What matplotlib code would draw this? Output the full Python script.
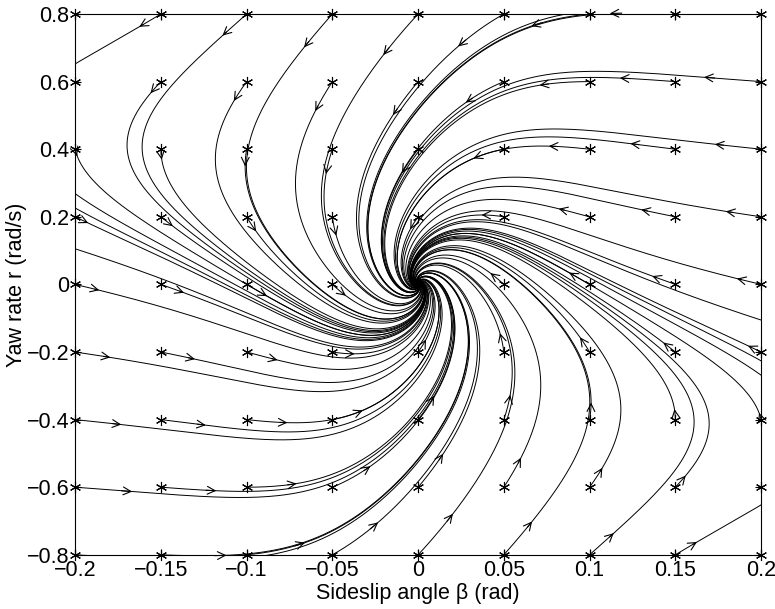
import numpy as np
import matplotlib.pyplot as plt

plt.rcParams['font.family'] = ['Liberation Sans', 'DejaVu Sans']

# grid of initial states (stars)
beta_start = [-0.2, -0.15, -0.1, -0.05, 0.0, 0.05, 0.1, 0.15, 0.2]
r_start = [-0.8, -0.6, -0.4, -0.2, 0.0, 0.2, 0.4, 0.6, 0.8]

x_ticks = [-0.2, -0.15, -0.1, -0.05, 0, 0.05, 0.1, 0.15, 0.2]
x_ticklabels = ['\u22120.2', '\u22120.15', '\u22120.1', '\u22120.05', '0',
                '0.05', '0.1', '0.15', '0.2']
y_ticks = [-0.8, -0.6, -0.4, -0.2, 0, 0.2, 0.4, 0.6, 0.8]
y_ticklabels = ['\u22120.8', '\u22120.6', '\u22120.4', '\u22120.2', '0',
                '0.2', '0.4', '0.6', '0.8']

# bicycle model with saturating tyres
mass = 1500.0
inertia = 2500.0
lf = 1.2
lr = 1.4
speed = 20.0
Cf = 60000.0
Cr = 110000.0
Df = 6900.0
Dr = 6500.0


def field(b, r):
    af = b + lf * r / speed
    ar = b - lr * r / speed
    Ff = -Df * np.tanh(Cf * af / Df)
    Fr = -Dr * np.tanh(Cr * ar / Dr)
    db = (Ff + Fr) / (mass * speed) - r
    dr = (lf * Ff - lr * Fr) / inertia
    return db, dr


B0, R0 = np.meshgrid(beta_start, r_start)
b = B0.ravel().astype(float)
r = R0.ravel().astype(float)

# RK4 integration of all starting points at once
dt = 0.002
n_steps = 2500
traj_b = [b.copy()]
traj_r = [r.copy()]
for _ in range(n_steps):
    k1b, k1r = field(b, r)
    k2b, k2r = field(b + 0.5 * dt * k1b, r + 0.5 * dt * k1r)
    k3b, k3r = field(b + 0.5 * dt * k2b, r + 0.5 * dt * k2r)
    k4b, k4r = field(b + dt * k3b, r + dt * k3r)
    b = b + dt / 6 * (k1b + 2 * k2b + 2 * k3b + k4b)
    r = r + dt / 6 * (k1r + 2 * k2r + 2 * k3r + k4r)
    traj_b.append(b.copy())
    traj_r.append(r.copy())
traj_b = np.array(traj_b)
traj_r = np.array(traj_r)

fig = plt.figure(figsize=(7.75, 6.09), dpi=100)
ax = fig.add_axes([0.097, 0.089, 0.885, 0.888])

i_arrow = 16
for k in range(traj_b.shape[1]):
    ax.plot(traj_b[:, k], traj_r[:, k], color='black', lw=0.7)
    ax.annotate('', xy=(traj_b[i_arrow, k], traj_r[i_arrow, k]),
                xytext=(traj_b[i_arrow - 3, k], traj_r[i_arrow - 3, k]),
                arrowprops=dict(arrowstyle='->', color='black', lw=0.8,
                                mutation_scale=14, shrinkA=0, shrinkB=0),
                annotation_clip=True)

ax.plot(B0.ravel(), R0.ravel(), linestyle='none', marker=(6, 2, 0),
        markersize=8, color='black', markeredgewidth=0.8, clip_on=False)

ax.set_xlim(-0.2, 0.2)
ax.set_ylim(-0.8, 0.8)
ax.set_xticks(x_ticks)
ax.set_xticklabels(x_ticklabels)
ax.set_yticks(y_ticks)
ax.set_yticklabels(y_ticklabels)
ax.tick_params(direction='in', length=4, labelsize=15.5, top=True, right=True,
               pad=4)
ax.set_xlabel('Sideslip angle β (rad)', fontsize=15.5, labelpad=1)
ax.set_ylabel('Yaw rate r (rad/s)', fontsize=15.5, labelpad=0)

fig.savefig('out.png', dpi=100)
